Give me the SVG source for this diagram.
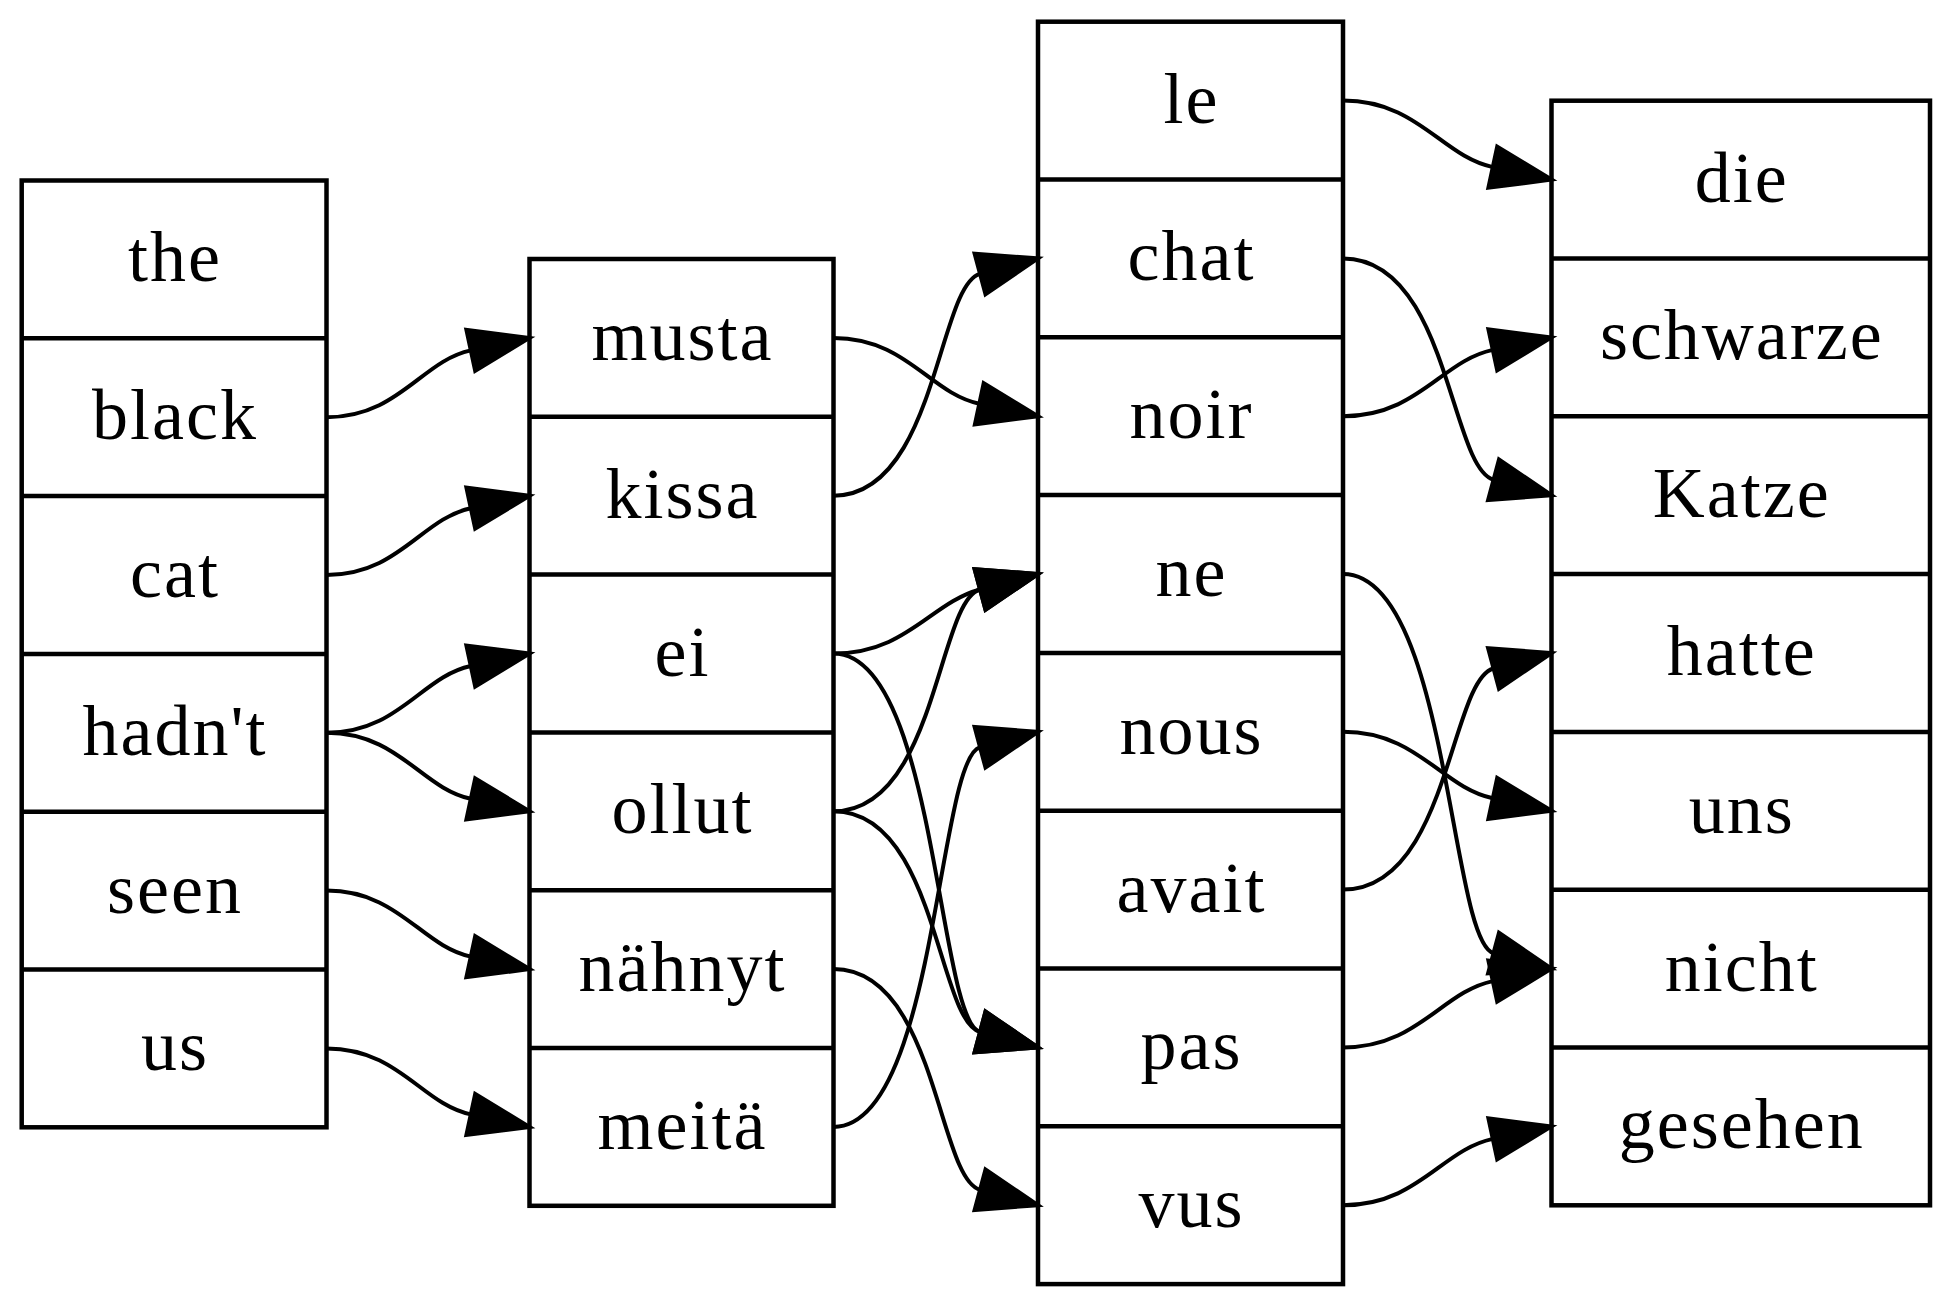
<svg xmlns="http://www.w3.org/2000/svg" width="1951" height="1308" viewBox="0 0 1951 1308">
<style>
.box{fill:#fff;stroke:#000;stroke-width:4.5}
.div{stroke:#000;stroke-width:4.5}
.t{font-family:"Liberation Serif","Times New Roman",serif;font-size:72px;letter-spacing:2px;text-anchor:middle;fill:#000}
.e{fill:none;stroke:#000;stroke-width:4}
.a{fill:#000;stroke:#000;stroke-width:4;stroke-linejoin:miter}
</style>
<rect width="1951" height="1308" fill="#fff"/>
<g id="english">
<rect class="box" x="21.7" y="180.5" width="304.8" height="946.8"/>
<line class="div" x1="21.7" y1="338.3" x2="326.5" y2="338.3"/>
<line class="div" x1="21.7" y1="496.1" x2="326.5" y2="496.1"/>
<line class="div" x1="21.7" y1="653.9" x2="326.5" y2="653.9"/>
<line class="div" x1="21.7" y1="811.7" x2="326.5" y2="811.7"/>
<line class="div" x1="21.7" y1="969.5" x2="326.5" y2="969.5"/>
<text class="t" x="175" y="281.4">the</text>
<text class="t" x="175" y="439.2">black</text>
<text class="t" x="175" y="597">cat</text>
<text class="t" x="175" y="754.8">hadn't</text>
<text class="t" x="175" y="912.6">seen</text>
<text class="t" x="175" y="1070.4">us</text>
</g>
<g id="finnish">
<rect class="box" x="529.5" y="259" width="304" height="946.8"/>
<line class="div" x1="529.5" y1="416.8" x2="833.5" y2="416.8"/>
<line class="div" x1="529.5" y1="574.6" x2="833.5" y2="574.6"/>
<line class="div" x1="529.5" y1="732.4" x2="833.5" y2="732.4"/>
<line class="div" x1="529.5" y1="890.2" x2="833.5" y2="890.2"/>
<line class="div" x1="529.5" y1="1048" x2="833.5" y2="1048"/>
<text class="t" x="682.5" y="359.9">musta</text>
<text class="t" x="682.5" y="517.7">kissa</text>
<text class="t" x="682.5" y="675.5">ei</text>
<text class="t" x="682.5" y="833.3">ollut</text>
<text class="t" x="682.5" y="991.1">nähnyt</text>
<text class="t" x="682.5" y="1148.9">meitä</text>
</g>
<g id="french">
<rect class="box" x="1038" y="21.7" width="305" height="1262.4"/>
<line class="div" x1="1038" y1="179.5" x2="1343" y2="179.5"/>
<line class="div" x1="1038" y1="337.3" x2="1343" y2="337.3"/>
<line class="div" x1="1038" y1="495.1" x2="1343" y2="495.1"/>
<line class="div" x1="1038" y1="652.9" x2="1343" y2="652.9"/>
<line class="div" x1="1038" y1="810.7" x2="1343" y2="810.7"/>
<line class="div" x1="1038" y1="968.5" x2="1343" y2="968.5"/>
<line class="div" x1="1038" y1="1126.3" x2="1343" y2="1126.3"/>
<text class="t" x="1191.5" y="122.6">le</text>
<text class="t" x="1191.5" y="280.4">chat</text>
<text class="t" x="1191.5" y="438.2">noir</text>
<text class="t" x="1191.5" y="596">ne</text>
<text class="t" x="1191.5" y="753.8">nous</text>
<text class="t" x="1191.5" y="911.6">avait</text>
<text class="t" x="1191.5" y="1069.4">pas</text>
<text class="t" x="1191.5" y="1227.2">vus</text>
</g>
<g id="german">
<rect class="box" x="1551.5" y="100.7" width="378.5" height="1104.6"/>
<line class="div" x1="1551.5" y1="258.5" x2="1930" y2="258.5"/>
<line class="div" x1="1551.5" y1="416.3" x2="1930" y2="416.3"/>
<line class="div" x1="1551.5" y1="574.1" x2="1930" y2="574.1"/>
<line class="div" x1="1551.5" y1="731.9" x2="1930" y2="731.9"/>
<line class="div" x1="1551.5" y1="889.7" x2="1930" y2="889.7"/>
<line class="div" x1="1551.5" y1="1047.5" x2="1930" y2="1047.5"/>
<text class="t" x="1741.8" y="201.6">die</text>
<text class="t" x="1741.8" y="359.4">schwarze</text>
<text class="t" x="1741.8" y="517.2">Katze</text>
<text class="t" x="1741.8" y="675">hatte</text>
<text class="t" x="1741.8" y="832.8">uns</text>
<text class="t" x="1741.8" y="990.6">nicht</text>
<text class="t" x="1741.8" y="1148.4">gesehen</text>
</g>
<g id="edges">
<path class="e" d="M326.5,417.2 C398.7,417.2 421.4,360.9 470.8,350.4"/>
<polygon class="a" points="529.5,337.9 475.2,370.9 466.4,329.9"/>
<path class="e" d="M326.5,575 C398.7,575 421.4,518.7 470.8,508.2"/>
<polygon class="a" points="529.5,495.7 475.2,528.7 466.4,487.7"/>
<path class="e" d="M326.5,732.8 C398.7,732.8 421.4,676.5 470.8,666"/>
<polygon class="a" points="529.5,653.5 475.2,686.5 466.4,645.5"/>
<path class="e" d="M326.5,732.8 C398.7,732.8 421.4,788.3 470.8,798.8"/>
<polygon class="a" points="529.5,811.3 466.4,819.4 475.2,778.3"/>
<path class="e" d="M326.5,890.6 C398.7,890.6 421.4,946.1 470.8,956.6"/>
<polygon class="a" points="529.5,969.1 466.4,977.2 475.2,936.1"/>
<path class="e" d="M326.5,1048.4 C398.7,1048.4 421.4,1103.9 470.8,1114.4"/>
<polygon class="a" points="529.5,1126.9 466.4,1135 475.2,1093.9"/>

<path class="e" d="M833.5,337.9 C906.4,337.9 929.4,393.1 979.3,403.7"/>
<polygon class="a" points="1038,416.2 974.9,424.3 983.7,383.2"/>
<path class="e" d="M833.5,495.7 C936.1,495.7 937.6,285.3 980,273.9"/>
<polygon class="a" points="1038,258.4 985.5,294.2 974.6,253.6"/>
<path class="e" d="M833.5,653.5 C906.8,653.5 930.5,602.8 980,589.5"/>
<polygon class="a" points="1038,574 985.5,609.8 974.6,569.2"/>
<path class="e" d="M833.5,653.5 C936.1,653.5 937.6,1020.5 980,1031.9"/>
<polygon class="a" points="1038,1047.4 974.6,1052.2 985.5,1011.6"/>
<path class="e" d="M833.5,811.3 C936.1,811.3 937.6,600.9 980,589.5"/>
<polygon class="a" points="1038,574 985.5,609.8 974.6,569.2"/>
<path class="e" d="M833.5,811.3 C936.1,811.3 937.6,1020.5 980,1031.9"/>
<polygon class="a" points="1038,1047.4 974.6,1052.2 985.5,1011.6"/>
<path class="e" d="M833.5,969.1 C936.1,969.1 937.6,1178.3 980,1189.7"/>
<polygon class="a" points="1038,1205.2 974.6,1210 985.5,1169.4"/>
<path class="e" d="M833.5,1126.9 C936.1,1126.9 937.6,758.7 980,747.3"/>
<polygon class="a" points="1038,731.8 985.5,767.6 974.6,727"/>

<path class="e" d="M1343,100.6 C1417.9,100.6 1441.5,156.2 1492.8,167.1"/>
<polygon class="a" points="1551.5,179.6 1488.4,187.7 1497.2,146.6"/>
<path class="e" d="M1343,258.4 C1448.4,258.4 1449.9,468 1493.5,479.7"/>
<polygon class="a" points="1551.5,495.2 1488.1,500 1499,459.4"/>
<path class="e" d="M1343,416.2 C1417.9,416.2 1441.5,360.8 1492.8,349.9"/>
<polygon class="a" points="1551.5,337.4 1497.2,370.4 1488.4,329.4"/>
<path class="e" d="M1343,574 C1448.4,574 1449.9,941.4 1493.5,953.1"/>
<polygon class="a" points="1551.5,968.6 1488.1,973.4 1499,932.8"/>
<path class="e" d="M1343,731.8 C1417.9,731.8 1441.5,787.4 1492.8,798.3"/>
<polygon class="a" points="1551.5,810.8 1488.4,818.9 1497.2,777.8"/>
<path class="e" d="M1343,889.6 C1448.4,889.6 1449.9,680.2 1493.5,668.5"/>
<polygon class="a" points="1551.5,653 1499,688.8 1488.1,648.2"/>
<path class="e" d="M1343,1047.4 C1417.9,1047.4 1441.5,992 1492.8,981.1"/>
<polygon class="a" points="1551.5,968.6 1497.2,1001.6 1488.4,960.6"/>
<path class="e" d="M1343,1205.2 C1417.9,1205.2 1441.5,1149.8 1492.8,1138.9"/>
<polygon class="a" points="1551.5,1126.4 1497.2,1159.4 1488.4,1118.4"/>
</g>
</svg>
